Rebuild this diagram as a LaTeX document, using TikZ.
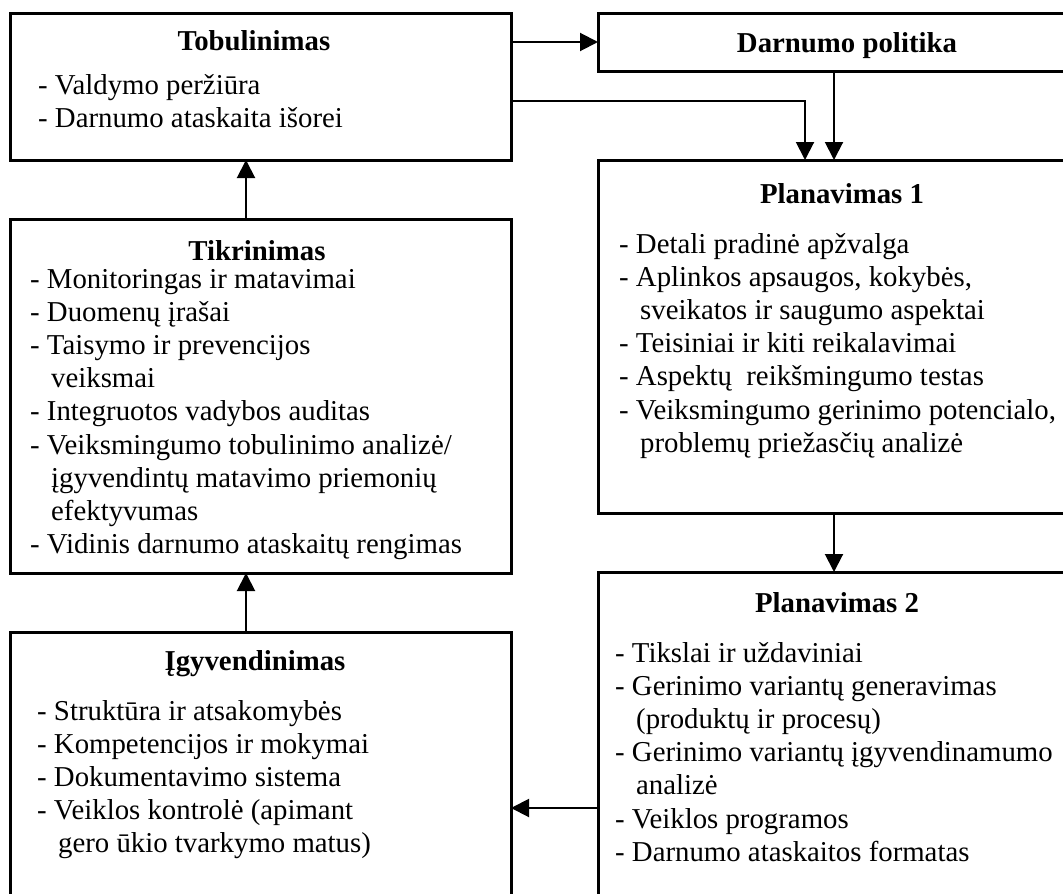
\documentclass[tikz,border=0pt]{standalone}
\usepackage{fontspec}
\setmainfont{Liberation Serif}
\usetikzlibrary{arrows.meta}

% one line of text per node, placed on its baseline
\newcommand\itemlines[4]{%
  \foreach \t [count=\i] in {#4}
    \node[lst] (#1-\i) at (#2, {#3+33.2*(\i-1)}) {\t};}
\newcommand\cont{\hspace*{21pt}}

\begin{document}
\begin{tikzpicture}[x=1pt,y=-1pt,
  box/.style={draw, line width=3pt, inner sep=0pt, outer sep=0pt, anchor=north west},
  conn/.style={line width=2pt, -{Triangle[length=18pt,width=18pt]}},
  ttl/.style={font=\fontsize{28.8}{33.2}\selectfont\bfseries, inner sep=0pt, anchor=base},
  lst/.style={font=\fontsize{28.8}{33.2}\selectfont, inner sep=0pt, anchor=base west}]

\path[use as bounding box] (0,0) rectangle (1063,894);
\clip (0,0) rectangle (1063,894);

% boxes
\node[box, minimum width=501pt, minimum height=147pt] (tob)   at (10,13)  {};
\node[box, minimum width=492pt, minimum height=58pt]  (pol)   at (598,13) {};
\node[box, minimum width=492pt, minimum height=353pt] (plan1) at (598,160) {};
\node[box, minimum width=501pt, minimum height=354pt] (tik)   at (10,219) {};
\node[box, minimum width=492pt, minimum height=400pt] (plan2) at (598,572) {};
\node[box, minimum width=501pt, minimum height=330pt] (igy)   at (10,632) {};

% helper levels for horizontal connectors
\coordinate (h1) at (0,42);
\coordinate (h2) at (0,101);
\coordinate (h3) at (0,808);

% connectors
\draw[conn] (tob.east |- h1) -- (pol.west |- h1);
\draw[conn] (tob.east |- h2) -| ([xshift=207pt]plan1.north west);
\draw[conn] ([xshift=236pt]pol.south west) -- ([xshift=236pt]plan1.north west);
\draw[conn] ([xshift=236pt]plan1.south west) -- ([xshift=236pt]plan2.north west);
\draw[conn] (plan2.west |- h3) -- (igy.east |- h3);
\draw[conn] ([xshift=236pt]igy.north west) -- ([xshift=236pt]tik.south west);
\draw[conn] ([xshift=236pt]tik.north west) -- ([xshift=236pt]tob.south west);

% titles
\node[ttl] (tob-t)   at (254,50)  {Tobulinimas};
\node[ttl] (pol-t)   at (847,52)  {Darnumo politika};
\node[ttl] (plan1-t) at (842,203) {Planavimas 1};
\node[ttl] (tik-t)   at (257,260) {Tikrinimas};
\node[ttl] (plan2-t) at (837,612) {Planavimas 2};
\node[ttl] (igy-t)   at (255,670) {Įgyvendinimas};

% item lists
\itemlines{tobl}{38}{94}{- Valdymo peržiūra, - Darnumo ataskaita išorei}
\itemlines{tikl}{30}{288}{- Monitoringas ir matavimai, - Duomenų įrašai,
  - Taisymo ir prevencijos, \cont veiksmai, - Integruotos vadybos auditas,
  - Veiksmingumo tobulinimo analizė/, \cont įgyvendintų matavimo priemonių,
  \cont efektyvumas, - Vidinis darnumo ataskaitų rengimas}
\itemlines{plan1l}{619}{253}{- Detali pradinė apžvalga,
  {- Aplinkos apsaugos, kokybės,}, \cont sveikatos ir saugumo aspektai,
  - Teisiniai ir kiti reikalavimai, - Aspektų\hspace{0.5em}reikšmingumo testas,
  {- Veiksmingumo gerinimo potencialo,}, \cont problemų priežasčių analizė}
\itemlines{plan2l}{615}{662}{- Tikslai ir uždaviniai,
  - Gerinimo variantų generavimas, \cont(produktų ir procesų),
  - Gerinimo variantų įgyvendinamumo, \cont analizė,
  - Veiklos programos, - Darnumo ataskaitos formatas}
\itemlines{igyl}{37}{720}{- Struktūra ir atsakomybės, - Kompetencijos ir mokymai,
  - Dokumentavimo sistema, - Veiklos kontrolė (apimant,
  \cont gero ūkio tvarkymo matus)}
\end{tikzpicture}
\end{document}
